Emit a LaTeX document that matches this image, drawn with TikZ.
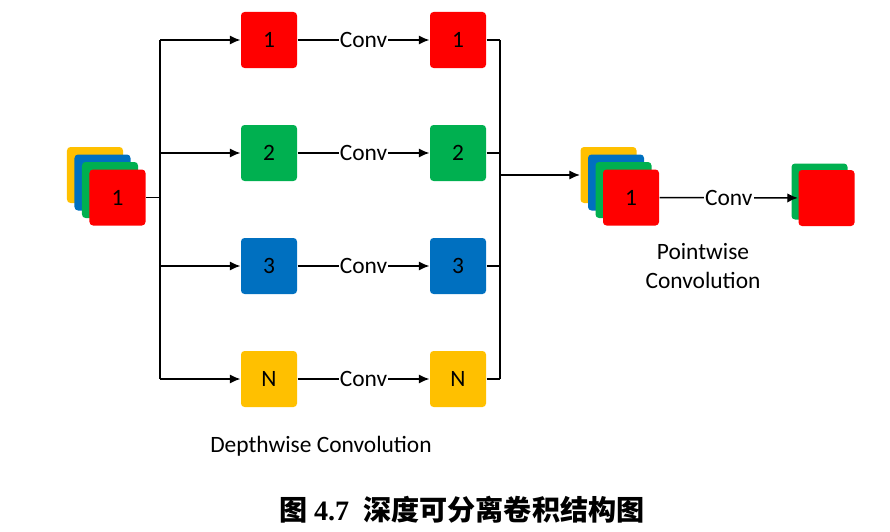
\documentclass[tikz,border=0pt]{standalone}
\usepackage{fontspec}
\setmainfont{Carlito}
\newfontfamily\cjkfont{Noto Sans CJK SC}
\newfontfamily\capserif{Liberation Serif}
\usetikzlibrary{arrows.meta,positioning}
\definecolor{mred}{RGB}{255,0,0}
\definecolor{mgreen}{RGB}{0,176,80}
\definecolor{mblue}{RGB}{0,112,192}
\definecolor{myellow}{RGB}{255,192,0}
\tikzstyle{fmap} = [rectangle, rounded corners=3pt, minimum size=1.68cm, inner sep=0pt, font=\fontsize{20}{24}\selectfont]
\tikzstyle{conv} = [fill=white, inner sep=1pt, font=\fontsize{20}{24}\selectfont]
\tikzstyle{branch} = [coordinate]

\begin{document}
\begin{tikzpicture}[x=0.03cm, y=-0.03cm, >={Latex[length=9pt,width=8pt]}, line width=1.2pt]
		\useasboundingbox (0,0) rectangle (890,532);
		% input feature maps
		\node [fmap, fill=myellow] (in4) at (95,175) {};
		\node [fmap, fill=mblue] (in3) at (102.5,182.5) {};
		\node [fmap, fill=mgreen] (in2) at (110,190) {};
		\node [fmap, fill=mred] (in1) at (117.5,197.5) {1};

		\node [branch] (split) at (160,197.5) {};
		\node [branch] (splittop) at (160,40) {};
		\node [branch] (splitbot) at (160,379) {};
		\node [branch] (mergetop) at (500,40) {};
		\node [branch] (mergebot) at (500,379) {};
		\node [branch] (merge) at (500,175) {};

		% depthwise branches
		\foreach \i/\lbl/\col/\y in {1/1/mred/40, 2/2/mgreen/153, 3/3/mblue/266, 4/N/myellow/379} {
			\node [fmap, fill=\col] (d\i) at (269,\y) {\lbl};
			\node [fmap, fill=\col, right of=d\i, node distance=5.67cm] (c\i) {\lbl};
			\draw [->] (split |- d\i) -- (d\i);
			\draw [->] (d\i) -- node[conv]{Conv} (c\i);
			\draw (c\i) -- (merge |- c\i);
		}
		\draw (in1) -- (split);
		\draw (splittop) -- (splitbot);
		\draw (mergetop) -- (mergebot);

		% pointwise part
		\node [fmap, fill=myellow] (p4) at (608.5,175) {};
		\node [fmap, fill=mblue] (p3) at (616,182.5) {};
		\node [fmap, fill=mgreen] (p2) at (623.5,190) {};
		\node [fmap, fill=mred] (p1) at (631,197.5) {1};
		\node [fmap, fill=mgreen] (out2) at (819.5,191.5) {};
		\node [fmap, fill=mred] (out1) at (826.5,198) {};

		\draw [->] (merge) -- (p4);
		\draw [->] (p1) -- node[conv]{Conv} (out1);

		\node [align=center, font=\fontsize{20}{24.5}\selectfont] (pwlabel) at (703,266) {Pointwise\\Convolution};
		\node [font=\fontsize{20}{24}\selectfont] (dwlabel) at (321,446) {Depthwise Convolution};
		\node [font=\fontsize{24}{28}\selectfont\bfseries] (caption) at (462,510) {\cjkfont 图 \capserif 4.7\ \ \cjkfont 深度可分离卷积结构图};
	\end{tikzpicture}
\end{document}
